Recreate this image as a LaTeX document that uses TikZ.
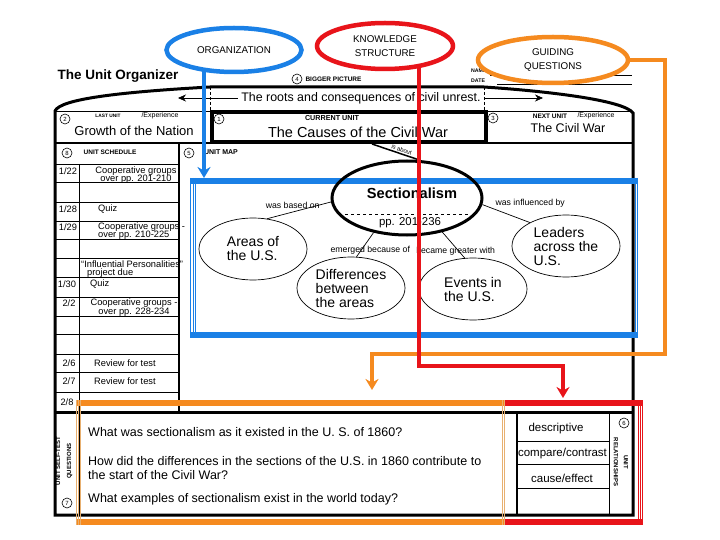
\documentclass[tikz,border=0pt]{standalone}
\usepackage{fontspec}
\setmainfont{Liberation Sans}
\usepackage{tikz}
\usetikzlibrary{shapes.geometric,arrows.meta,positioning}
\definecolor{orgblue}{HTML}{1A80E6}
\definecolor{ksred}{HTML}{E8141A}
\definecolor{gqorange}{HTML}{F58A1F}
\definecolor{gqtan}{HTML}{E8B070}
\newcommand{\fsz}[2]{\fontsize{#1}{#2}\selectfont}

\begin{document}
\begin{tikzpicture}[x=1pt, y=-1pt,
  topoval/.style={ellipse, fill=white, line width=4.5pt, outer sep=0pt, minimum width=135pt,
                  minimum height=44pt, align=center, font=\fsz{9.8}{14}},
  mapoval/.style={ellipse, draw, line width=0.7pt, inner sep=0pt, minimum width=108pt,
                  minimum height=62pt, align=left, font=\fsz{14}{14}},
  linklbl/.style={font=\fsz{8.7}{9}, inner sep=1pt},
  hdr/.style={font=\fsz{6.5}{7}\bfseries, inner sep=0pt},
  explbl/.style={font=\fsz{7}{7}, inner sep=0pt},
  num/.style={circle, draw, line width=0.6pt, inner sep=0pt, minimum size=10pt, font=\fsz{6}{6}},
  datecell/.style={font=\fsz{9.3}{9}, inner sep=0pt},
  sched/.style={font=\fsz{9.3}{8.5}, inner sep=0pt},
  qtext/.style={anchor=west, font=\fsz{12.5}{14}, align=left, inner sep=0pt},
  reltext/.style={font=\fsz{11.5}{12}, inner sep=0pt},
  wall/.style={line width=3pt},
  rule/.style={line width=0.8pt},
  framebar/.style={line width=6pt},
  frameside/.style={line width=0.9pt},
  pointer/.style={line width=4.5pt, -{Stealth[length=11pt,width=13pt]}}]
\fill[white] (0,0) rectangle (720,540);
\useasboundingbox (0,0) rectangle (720,540);

\draw[wall] (55,515) -- (55,111) .. controls (60,99) and (120,92) .. (210,87)
  -- (484,87) .. controls (545,91) and (624,100) .. (633,113) -- (633,515) -- cycle;
\draw[rule] (55,111) -- (633,111);
\draw[line width=2.5pt] (55,143) -- (633,143);
\draw[densely dashed, line width=0.6pt] (210,87) -- (210,111);
\draw[densely dashed, line width=0.6pt] (484,87) -- (484,111);
\draw[line width=2.5pt] (179,143) -- (179,412);
\draw[rule] (79,164) -- (79,412);
\foreach \y in {164,182,202,221,239,258,277,297,316,334,354,372,392}
  \draw[rule] (55,\y) -- (179,\y);
\draw[wall] (55,412) -- (633,412);
\draw[line width=2pt] (79,412) -- (79,515);
\draw[line width=2.5pt] (517,412) -- (517,515);
\draw[rule] (609,412) -- (609,515);
\foreach \y in {441,464,488}
  \draw[rule] (517,\y) -- (609,\y);
\draw[rule] (490,75) -- (632,75);
\draw[rule] (497,84) -- (632,84);

\node[anchor=west, font=\fsz{13.5}{14}\bfseries] (title) at (54,76) {The Unit Organizer};
\node[num] (n4) at (297,79) {4};
\node[hdr, right=3pt of n4] (bigpic) {BIGGER PICTURE};
\node[hdr, font=\fsz{5.2}{6}\bfseries, anchor=west] (namelbl) at (471,71) {NAME};
\node[hdr, font=\fsz{5.2}{6}\bfseries, anchor=west] (datelbl) at (471,81) {DATE};

\node[font=\fsz{12.4}{13}] (roots) at (361,98) {The roots and consequences of civil unrest.};
\coordinate (pastend) at (178,98);
\coordinate (nextend) at (543,98);
\draw[-{Stealth[length=8pt,width=7pt]}, line width=0.7pt] (roots.west) -- (pastend);
\draw[-{Stealth[length=8pt,width=7pt]}, line width=0.7pt] (roots.east) -- (nextend);

\node[num] (n2) at (65,119) {2};
\node[hdr, font=\fsz{4.8}{5}\bfseries] (lastlbl) at (108,116) {LAST UNIT};
\node[explbl] (lastexp) at (160,116) {/Experience};
\node[font=\fsz{13}{13}] (lastname) at (134,131) {Growth of the Nation};

\node[draw, line width=4pt, minimum width=274pt, minimum height=30pt] (cur) at (349,127) {};
\node[num] (n1) at (219,119) {1};
\node[hdr, font=\fsz{7.2}{7}\bfseries] (curlbl) at (332,118) {CURRENT UNIT};
\node[font=\fsz{14.5}{15}] (curname) at (358,132) {The Causes of the Civil War};

\node[num] (n3) at (493,118) {3};
\node[hdr] (nextlbl) at (550,116) {NEXT UNIT};
\node[explbl] (nextexp) at (596,116) {/Experience};
\node[font=\fsz{12.5}{13}] (nextname) at (568,128) {The Civil War};

\node[num] (n8) at (67,153) {8};
\node[hdr] (schedlbl) at (110,152) {UNIT SCHEDULE};
\node[datecell] (d1) at (68,171) {1/22};
\node[sched, align=center] (e1) at (136,175) {Cooperative groups\\over pp. 201-210};
\node[datecell] (d2) at (68,209) {1/28};
\node[sched, anchor=west] (e2) at (98,209) {Quiz};
\node[datecell] (d3) at (68,227) {1/29};
\node[sched, align=left, anchor=west] (e3) at (98,231) {Cooperative groups -\\over pp. 210-225};
\node[sched, align=left, anchor=west] (e4) at (81,269) {``Influential Personalities''\\\hspace*{6pt}project due};
\node[datecell] (d5) at (67,284) {1/30};
\node[sched, anchor=west] (e5) at (90,284) {Quiz};
\node[datecell] (d6) at (69,303) {2/2};
\node[sched, align=center] (e6) at (134,307.5) {Cooperative groups -\\over pp. 228-234};
\node[datecell] (d7) at (69,363) {2/6};
\node[sched, anchor=west] (e7) at (94,363) {Review for test};
\node[datecell] (d8) at (69,381) {2/7};
\node[sched, anchor=west] (e8) at (94,381) {Review for test};
\node[datecell] (d9) at (67,402) {2/8};

\node[num] (n5) at (189,153) {5};
\node[hdr, font=\fsz{7}{7}\bfseries] (maplbl) at (221,152) {UNIT MAP};

\draw[orgblue, framebar] (190,181) -- (638,181);
\draw[orgblue, framebar] (190,335) -- (638,335);
\foreach \x in {190.5,193,195.5,635,637.5}
  \draw[orgblue, frameside] (\x,178) -- (\x,338);

\node[ellipse, draw, line width=3pt, minimum width=150pt, minimum height=74pt] (sect) at (407,198) {};
\node[font=\fsz{14.6}{15}\bfseries] (secttitle) at (412,193) {Sectionalism};
\draw[dashed, line width=0.7pt] (345,214) -- (470,214);
\node[font=\fsz{11.4}{12}] (sectpp) at (410,223) {pp. 201-236};
\node[mapoval] (areas) at (253,249) {Areas of\\the U.S.};
\node[mapoval] (diff) at (351,288) {Differences\\between\\the areas};
\node[mapoval] (events) at (473,289) {Events in\\the U.S.};
\node[mapoval] (leaders) at (566,246) {Leaders\\across the\\U.S.};

\draw[line width=1.5pt] ([xshift=23pt]cur.south) -- node[sloped, above, pos=0.6, font=\fsz{6}{6}, inner sep=1pt] {is about} (sect.72);
\draw[line width=0.7pt] (sect.183) -- node[linklbl, above=2pt, pos=0.6] {was based on} (areas.65);
\draw[line width=0.7pt] (sect.226) -- node[linklbl, pos=0.72, xshift=9pt] {emerged because of} (diff.80);
\draw[line width=0.7pt] (sect.316) -- node[linklbl, pos=0.73, xshift=-3pt] {became greater with} (events.105);
\draw[line width=0.7pt] (sect.355) -- node[linklbl, pos=0.25, above right=0pt] {was influenced by} (leaders.147);

\draw[gqorange, framebar] (76,403) -- (505,403);
\draw[gqorange, framebar] (76,522) -- (505,522);
\draw[ksred, framebar] (505,403) -- (643,403);
\draw[ksred, framebar] (505,522) -- (643,522);
\foreach \x in {76.5,78.5,80.5,502,504}
  \draw[gqtan, frameside] (\x,400) -- (\x,525);
\foreach \x in {638.5,640.5,642.5}
  \draw[ksred, frameside] (\x,400) -- (\x,525);

\node[qtext] (q1) at (88,432) {What was sectionalism as it existed in the U. S. of 1860?};
\node[qtext] (q2) at (88,468) {How did the differences in the sections of the U.S. in 1860 contribute to\\the start of the Civil War?};
\node[qtext] (q3) at (88,499) {What examples of sectionalism exist in the world today?};
\node[hdr, font=\fsz{6}{11}\bfseries, rotate=90, align=center] (testlbl) at (64,461) {UNIT SELF-TEST\\QUESTIONS};
\node[num] (n7) at (67,503) {7};

\node[reltext] (desc) at (556,429) {descriptive};
\node[reltext] (comp) at (562.5,454) {compare/contrast};
\node[reltext] (cause) at (562,478) {cause/effect};
\node[hdr, font=\fsz{6}{10}\bfseries, rotate=-90, align=center] (rellbl) at (621,462) {UNIT\\RELATIONSHIPS};
\node[num] (n6) at (624,423) {6};

\node[topoval, draw=orgblue] (org) at (234,50) {ORGANIZATION};
\node[topoval, draw=ksred, minimum width=136pt, minimum height=46pt] (ks) at (385,46) {KNOWLEDGE\\STRUCTURE};
\node[topoval, draw=gqorange, minimum width=150pt, minimum height=46pt] (gq) at (553,60) {GUIDING\\QUESTIONS};

\coordinate (maptop) at (204,178);
\draw[pointer, orgblue, shorten <=-3pt] (maptop |- org.south) -- (maptop);
\coordinate (gqbend) at (665,354);
\coordinate (qtop) at (372,390);
\draw[pointer, gqorange, line width=3.5pt] (gq.east) -| (gqbend) -| (qtop);
\coordinate (ksbend) at (419,366);
\coordinate (reltop) at (563,398);
\draw[pointer, ksred, shorten <=-4pt] (ksbend |- ks.south) -- (ksbend) -| (reltop);
\end{tikzpicture}
\end{document}
